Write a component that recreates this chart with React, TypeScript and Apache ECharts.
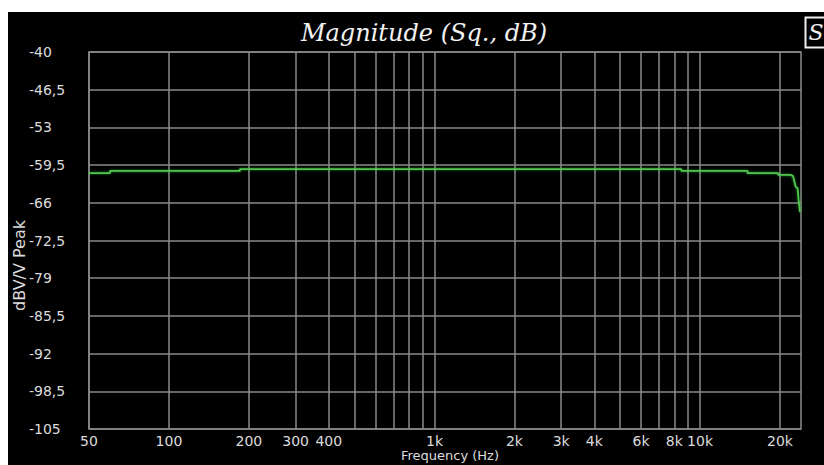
import React, { useEffect, useRef } from "react";
import * as echarts from "echarts";

// Frequency response (stair-stepped trace as displayed)
const FREQ_HZ = [50, 60, 60, 185, 185, 8500, 8500, 15100, 15100, 19700, 19700, 22000, 22400, 22600, 22900, 23300, 23500, 23800];
const MAG_DB = [-60.9, -60.9, -60.5, -60.5, -60.2, -60.2, -60.5, -60.5, -60.9, -60.9, -61.2, -61.2, -61.4, -62.1, -63.2, -63.5, -65.5, -67.6];

const X_GRID_HZ = [50, 100, 200, 300, 400, 500, 600, 700, 800, 900, 1000, 2000, 3000, 4000, 5000, 6000, 7000, 8000, 9000, 10000, 20000];
const X_LABEL_HZ = [50, 100, 200, 300, 400, 1000, 2000, 3000, 4000, 6000, 8000, 10000, 20000];
const X_MIN = 50;
const X_MAX = 24000;
const Y_MIN = -105;
const Y_MAX = -40;
const Y_STEP = 6.5;

const TITLE = "Magnitude (Sq., dB)";
const X_NAME = "Frequency (Hz)";
const Y_NAME = "dBV/V Peak";

const GRID_COLOR = "#8a8a8a";
const LABEL_COLOR = "#dcdcdc";

export default function App() {
  const ref = useRef<HTMLDivElement>(null);
  useEffect(() => {
    const chart = echarts.init(ref.current!, null, { renderer: "svg" });
    const data = FREQ_HZ.map((f, i) => [f, MAG_DB[i]]);
    chart.setOption({
      animation: false,
      backgroundColor: "#000000",
      title: {
        text: TITLE,
        left: 411,
        top: 4,
        textAlign: "center",
        textStyle: {
          color: "#f2f2f2",
          fontFamily: "DejaVu Serif",
          fontStyle: "italic",
          fontWeight: "normal",
          fontSize: 24,
        },
      },
      graphic: [
        {
          type: "group",
          left: 795,
          top: 3,
          children: [
            { type: "rect", shape: { x: 0, y: 0, width: 26, height: 30 }, style: { fill: "none", stroke: "#f0f0f0", lineWidth: 2 } },
            { type: "text", x: 3, y: 4, style: { text: "S", fill: "#f0f0f0", font: "italic 22px 'DejaVu Serif'" } },
          ],
        },
      ],
      grid: {
        left: 81,
        top: 40,
        right: 23,
        bottom: 36,
        containLabel: false,
        outerBoundsMode: "none",
        show: true,
        borderColor: GRID_COLOR,
        borderWidth: 1.5,
        backgroundColor: "#000000",
      },
      xAxis: {
        type: "log",
        logBase: 10,
        min: X_MIN,
        max: X_MAX,
        name: X_NAME,
        nameLocation: "middle",
        nameGap: 20,
        nameMoveOverlap: false,
        nameTextStyle: { color: LABEL_COLOR, fontFamily: "DejaVu Sans", fontSize: 13, padding: [0, 0, 0, 10] },
        axisLine: { show: false },
        axisTick: { show: false, customValues: X_GRID_HZ },
        splitLine: { show: true, lineStyle: { color: GRID_COLOR, width: 1.5 } },
        minorSplitLine: { show: false },
        axisLabel: {
          customValues: X_LABEL_HZ,
          color: LABEL_COLOR,
          fontFamily: "DejaVu Sans",
          fontSize: 14,
          margin: 5,
          formatter: (v: number) => (v >= 1000 ? `${Math.round(v / 1000)}k` : `${Math.round(v)}`),
        },
      },
      yAxis: {
        type: "value",
        min: Y_MIN,
        max: Y_MAX,
        interval: Y_STEP,
        name: Y_NAME,
        nameLocation: "middle",
        nameRotate: 90,
        nameGap: 62,
        nameMoveOverlap: false,
        nameTextStyle: { color: LABEL_COLOR, fontFamily: "DejaVu Sans", fontSize: 16, padding: [0, 50, 0, 0] },
        axisLine: { show: false },
        axisTick: { show: false },
        splitLine: { show: true, lineStyle: { color: GRID_COLOR, width: 1.5 } },
        axisLabel: {
          color: LABEL_COLOR,
          fontFamily: "DejaVu Sans",
          fontSize: 14,
          align: "left",
          margin: 60,
          padding: [4, 0, 0, 0],
          formatter: (v: number) => String(Math.round(v * 10) / 10).replace(".", ","),
        },
      },
      series: [
        {
          type: "line",
          data,
          showSymbol: false,
          symbol: "none",
          lineStyle: { color: "#4fc84f", width: 1.8, shadowColor: "rgba(60,200,60,0.6)", shadowBlur: 3 },
          z: 5,
        },
      ],
    });
    return () => chart.dispose();
  }, []);
  return (
    <div
      ref={ref}
      style={{ position: "absolute", left: 8, top: 12, width: 816, height: 453, background: "#000" }}
    />
  );
}
